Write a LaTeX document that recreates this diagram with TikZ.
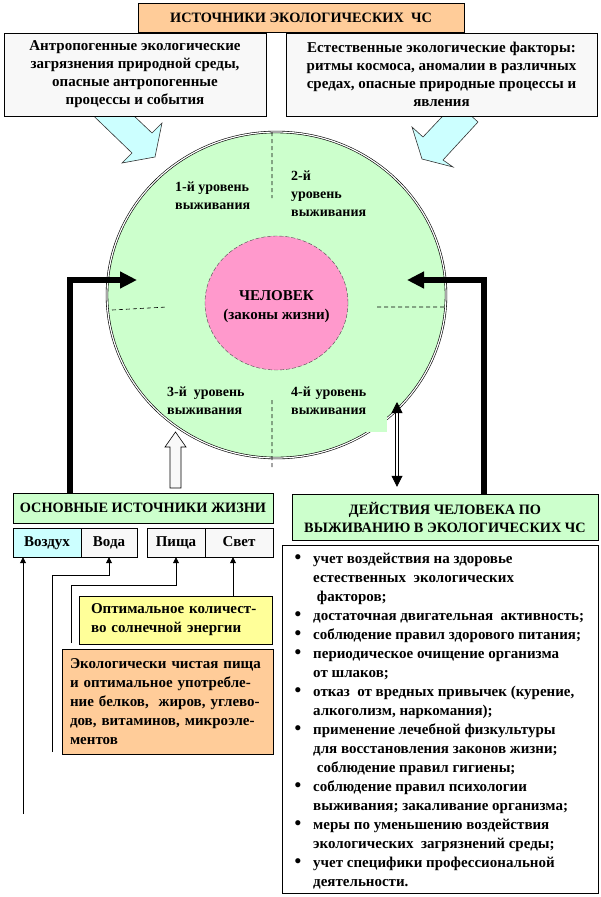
\documentclass[tikz,border=0pt]{standalone}
\usepackage{fontspec}
\setmainfont{Liberation Serif}
\usetikzlibrary{arrows.meta,shapes.geometric}
\definecolor{peach}{HTML}{FFCC99}
\definecolor{mist}{HTML}{F8F8F8}
\definecolor{leaf}{HTML}{CCFFCC}
\definecolor{frost}{HTML}{CCFFFF}
\definecolor{rose}{HTML}{FF99CC}
\definecolor{lemon}{HTML}{FFFF99}
\newcommand\itemdot{\llap{\fontsize{19}{19}\selectfont\textbullet\hspace{12pt}}}

\begin{document}
\begin{tikzpicture}[x=1pt,y=-1pt,font=\bfseries\fontsize{15}{19}\selectfont]
    \tikzstyle{box}=[rectangle,draw,inner sep=0pt,align=center]
    \tikzstyle{caps}=[box,fill=leaf,font=\bfseries\fontsize{14.3}{18}\selectfont]
    \tikzstyle{pane}=[box,fill=mist,minimum height=83,font=\bfseries\fontsize{15}{18}\selectfont]
    \tikzstyle{cell}=[box,minimum height=29,text height=10.5pt,text depth=3.5pt]
    \tikzstyle{lvl}=[font=\bfseries\fontsize{14}{18}\selectfont,align=left,anchor=west,inner sep=0pt]
    \tikzstyle{flow}=[draw=black!80,fill=frost,line width=0.6pt]
    \tikzstyle{heavy}=[line width=6pt,-{Triangle[length=17pt,width=16pt]}]
    \tikzstyle{feed}=[line width=0.8pt,-{Triangle[length=6pt,width=6pt]}]
    \tikzstyle{dbl}=[double,double distance=1.8pt,line width=0.8pt,{Triangle[length=11pt,width=11pt]}-{Triangle[length=11pt,width=11pt]},shorten <=7pt]
    \useasboundingbox (0,0) rectangle (601,897);
    \draw [flow] (73,96) -- (132,153) -- (122,163) -- (155,157) -- (162,123) -- (152,133) -- (113,96) -- cycle;
    \draw [flow] (456,102) -- (423,137) -- (412,127) -- (422,159) -- (453,167) -- (443,160) -- (478,122) -- cycle;
    \node [pane,minimum width=262] (anthro) at (135,74.5) {Антропогенные экологические\\загрязнения природной среды,\\опасные антропогенные\\процессы и события};
    \node [pane,minimum width=311] (nature) at (441.5,74.5) {Естественные экологические факторы:\\ритмы космоса, аномалии в различных\\средах, опасные природные процессы и\\явления};
    \node [caps,fill=peach,minimum width=326,minimum height=29] (title) at (301,17.5) {ИСТОЧНИКИ ЭКОЛОГИЧЕСКИХ\ \ ЧС};
    \node [ellipse,draw,double,double distance=1.2pt,line width=0.6pt,fill=leaf,minimum width=339,minimum height=326] (world) at (276.5,295) {};
    \draw [line width=0.6pt,dash pattern=on 4pt off 3pt] (272,132) -- (272,198) (112,310) -- (167,307) (377,307) -- (445,307) (272,400) -- (272,468);
    \node [lvl] (lvl1) at (175,196) {1-й уровень\\выживания};
    \node [lvl] (lvl2) at (291,194) {2-й\\уровень\\выживания};
    \node [lvl] (lvl3) at (167,400.5) {3-й\ \ уровень\\выживания};
    \node [lvl,anchor=north west,fill=leaf,text width=90,inner xsep=6pt,minimum height=63] (lvl4) at (285,369) {4-й уровень\\выживания};
    \node [ellipse,draw=black!70,dash pattern=on 4pt off 2pt,fill=rose,minimum width=143,minimum height=134] (man) at (276.5,303) {};
    \node [align=center] (mantext) at (276.5,307) {ЧЕЛОВЕК\\(законы жизни)};
    \node [caps,minimum width=260,minimum height=30] (src) at (143,508) {ОСНОВНЫЕ ИСТОЧНИКИ ЖИЗНИ};
    \node [cell,fill=frost,minimum width=68] (air) at (47,542.5) {Воздух};
    \node [cell,fill=mist,minimum width=56] (water) at (109,542.5) {Вода};
    \node [cell,fill=mist,minimum width=58] (food) at (176,542.5) {Пища};
    \node [cell,fill=mist,minimum width=68] (light) at (239,542.5) {Свет};
    \node [box,fill=lemon,minimum width=193,minimum height=48,text width=169,align=left] (sun) at (175.5,620) {Оптимальное количест-\\во солнечной энергии};
    \node [box,fill=peach,minimum width=211,minimum height=105,text width=195,align=left] (diet) at (167.5,701.5) {Экологически чистая пища\\и оптимальное употребле-\\ние белков,\ \ жиров, углево-\\дов, витаминов, микроэле-\\ментов};
    \node [caps,minimum width=306,minimum height=46] (act) at (445,517) {ДЕЙСТВИЯ ЧЕЛОВЕКА ПО\\ВЫЖИВАНИЮ В ЭКОЛОГИЧЕСКИХ ЧС};
    \node [box,minimum width=316,minimum height=348] (tasks) at (440,719) {};
    \node [anchor=north west,align=left,inner sep=0pt] (tasklist) at (313,553) {\itemdot учет воздействия на здоровье\\
      естественных\ \ экологических\\
      \ факторов;\\
      \itemdot достаточная двигательная\ \ активность;\\
      \itemdot соблюдение правил здорового питания;\\
      \itemdot периодическое очищение организма\\
      от шлаков;\\
      \itemdot отказ\ \ от вредных привычек (курение,\\
      алкоголизм, наркомания);\\
      \itemdot применение лечебной физкультуры\\
      для восстановления законов жизни;\\
      \ соблюдение правил гигиены;\\
      \itemdot соблюдение правил психологии\\
      выживания; закаливание организма;\\
      \itemdot меры по уменьшению воздействия\\
      экологических\ \ загрязнений среды;\\
      \itemdot учет специфики профессиональной\\
      деятельности.};
    \coordinate (airfoot) at (23,814);
    \coordinate (waterfoot) at (52,752);
    \coordinate (foodfoot) at (71,643);
    \draw [feed] (airfoot) -- (airfoot |- air.south);
    \draw [feed] (waterfoot) |- ([yshift=-18pt]water.south) -- (water.south);
    \draw [feed] (foodfoot) |- ([yshift=-28pt]food.south) -- (food.south);
    \draw [feed] ([xshift=-6pt]light.south |- sun.north) -- ([xshift=-6pt]light.south);
    \coordinate (lin) at (137,280);
    \coordinate (rin) at (407,280);
    \draw [heavy] ([xshift=57pt]src.north west) |- (lin);
    \draw [heavy] ([xshift=-114pt]act.north east) |- (rin);
    \draw [fill=mist,line width=0.6pt] (170,488) -- (170,447) -- (165,447) -- (175.5,432) -- (186,447) -- (181,447) -- (181,488) -- cycle;
    \coordinate (dtop) at (397,402);
    \draw [dbl] (dtop |- act.north) -- (dtop);
\end{tikzpicture}
\end{document}
